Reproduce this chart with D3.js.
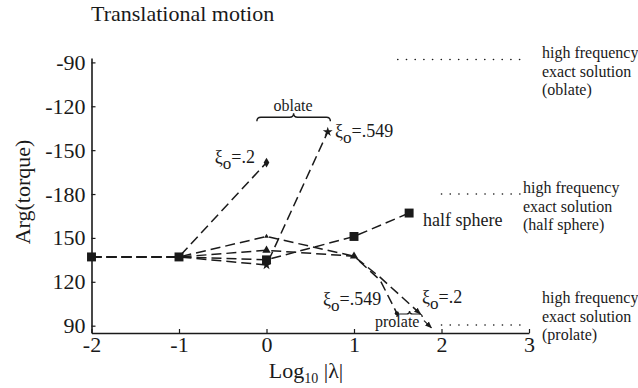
<!DOCTYPE html>
<html>
<head>
<title>Translational motion</title>
<style>
  body, html { margin: 0; padding: 0; background: #fff; }
  svg { display: block; font-family: "Liberation Serif", "DejaVu Serif", serif; }
</style>
</head>
<body>
<svg id="svg" width="638" height="388"></svg>
<script src="https://d3js.org/d3.v7.min.js"></script>
<script>
// axis ticks
const xTicks = [-2, -1, 0, 1, 2, 3]
const yTickArgs = [90, 120, 150, -180, -150, -120, -90]

// series: log10|lambda| and Arg(torque) in degrees, as read on the axis
const halfX = [-2, -1, 0, 1, 1.63]
const halfArg = [137, 137, 135, 151, 167]

const oblate02X = [-2, -1, 0]
const oblate02Arg = [137, 137, -158.5]

const oblate549X = [-2, -1, 0, 0.7]
const oblate549Arg = [137, 137, 131.5, -137.5]

const prolate02X = [-2, -1, 0, 1, 1.3, 1.76]
const prolate02Arg = [137, 137, 151, 137.5, 123, 98]

const prolate549X = [-2, -1, 0, 1, 1.3, 1.49]
const prolate549Arg = [137, 137, 141.5, 137.5, 121, 98.5]

// high frequency exact solutions
const hfOblateX = [1.5, 2.97]
const hfOblateArg = [-88, -88]
const hfHalfX = [2.0, 2.9]
const hfHalfArg = [180, 180]
const hfProlateX = [2.0, 2.97]
const hfProlateArg = [90.5, 90.5]

// phase axis wraps at 180: 90 ... 180/-180 ... -90
const unwrap = a => a < 0 ? a + 360 : a
const zip = (xs, as) => xs.map((v, i) => [v, as[i]])

const svg = d3.select('#svg')
const x = d3.scaleLinear().domain([-2, 3]).range([91.5, 529])
const y = d3.scaleLinear().domain([85, 273]).range([333, 58])
const ink = '#1a1a1a'

// axes
const yAxis = d3.axisLeft(y)
  .tickValues(yTickArgs.map(unwrap))
  .tickFormat((d, i) => yTickArgs[i])
  .tickSize(-4).tickSizeOuter(0).tickPadding(6)
const gy = svg.append('g').attr('transform', `translate(${x(-2)},0)`).call(yAxis)

const xAxis = d3.axisBottom(x)
  .tickValues(xTicks)
  .tickFormat(d3.format('d'))
  .tickSize(-4).tickSizeOuter(0).tickPadding(3)
const gx = svg.append('g').attr('transform', `translate(0,${y(85)})`).call(xAxis)

for (const g of [gx, gy]) {
  g.attr('font-family', null).attr('font-size', 22)
  g.select('.domain').attr('stroke', ink).attr('stroke-width', 1.6)
  g.selectAll('.tick line').attr('stroke', ink).attr('stroke-width', 1.2)
  g.selectAll('.tick text').attr('fill', ink)
}
gx.selectAll('.tick text').text(d => d < 0 ? '-' + Math.abs(d) : d)

// dashed data lines
const line = d3.line().x(d => x(d[0])).y(d => y(unwrap(d[1])))

svg.append('defs').append('marker')
  .attr('id', 'arrow').attr('viewBox', '0 0 10 10')
  .attr('refX', 9).attr('refY', 5)
  .attr('markerWidth', 7).attr('markerHeight', 7)
  .attr('markerUnits', 'userSpaceOnUse')
  .attr('orient', 'auto')
  .append('path').attr('d', 'M0,1L10,5L0,9z').attr('fill', ink)

const series = [
  { pts: zip(oblate02X, oblate02Arg) },
  { pts: zip(oblate549X, oblate549Arg) },
  { pts: zip(halfX, halfArg) },
  { pts: zip(prolate549X, prolate549Arg) },
  { pts: zip(prolate02X, prolate02Arg), arrow: true }
]
svg.append('g').selectAll('path')
  .data(series)
  .join('path')
  .attr('d', d => line(d.pts))
  .attr('fill', 'none')
  .attr('stroke', ink)
  .attr('stroke-width', 1.5)
  .attr('stroke-dasharray', '10,5')
  .attr('marker-end', d => d.arrow ? 'url(#arrow)' : null)

// dotted high-frequency lines
svg.append('g').selectAll('path')
  .data([zip(hfOblateX, hfOblateArg), zip(hfHalfX, hfHalfArg), zip(hfProlateX, hfProlateArg)])
  .join('path')
  .attr('d', line)
  .attr('fill', 'none')
  .attr('stroke', ink)
  .attr('stroke-width', 1.6)
  .attr('stroke-linecap', 'round')
  .attr('stroke-dasharray', '0.1,8.6')

// markers
function markers(xs, as, type, size) {
  svg.append('g').selectAll('path')
    .data(zip(xs, as))
    .join('path')
    .attr('transform', d => `translate(${x(d[0])},${y(unwrap(d[1]))})`)
    .attr('d', d3.symbol().type(type).size(size))
    .attr('fill', ink)
}
markers(halfX, halfArg, d3.symbolSquare, 80)
markers(oblate02X.slice(2), oblate02Arg.slice(2), d3.symbolDiamond, 28)
markers(oblate549X.slice(2), oblate549Arg.slice(2), d3.symbolStar, 30)
markers(prolate549X.slice(2, 4), prolate549Arg.slice(2, 4), d3.symbolTriangle, 30)
markers(prolate549X.slice(5), prolate549Arg.slice(5), d3.symbolCircle, 14)
markers(prolate02X.slice(2, 3), prolate02Arg.slice(2, 3), d3.symbolTriangle, 10)

// curly braces
function brace(x1, x2, yy, h) {
  const xm = (x1 + x2) / 2
  return `M${x1},${yy + h}Q${x1},${yy} ${x1 + h},${yy}L${xm - h},${yy}` +
    `Q${xm},${yy} ${xm},${yy - h}Q${xm},${yy} ${xm + h},${yy}` +
    `L${x2 - h},${yy}Q${x2},${yy} ${x2},${yy + h}`
}
svg.append('path')
  .attr('d', brace(x(-0.11), x(0.73), y(232.5), 4))
  .attr('fill', 'none').attr('stroke', ink).attr('stroke-width', 1.4)
svg.append('path')
  .attr('d', brace(x(1.49), x(1.78), y(98), 3))
  .attr('fill', 'none').attr('stroke', ink).attr('stroke-width', 1.2)
// arrow towards the prolate limit
svg.append('path')
  .attr('d', line([[1.8, 93.5], [1.885, 88.5]]))
  .attr('stroke', ink).attr('stroke-width', 1.2)
  .attr('marker-end', 'url(#arrow)')

// labels
function xiLabel(px, py, val, size) {
  const t = svg.append('text')
    .attr('x', px).attr('y', py)
    .attr('font-size', size).attr('fill', ink)
  t.append('tspan').text('ξ')
  t.append('tspan').attr('dy', 6).attr('font-size', size * 0.95).text('o')
  t.append('tspan').attr('dy', -6).text('=' + val)
}
xiLabel(x(-0.1) - 43, y(201.2), '.2', 18)
xiLabel(x(0.783), y(219), '.549', 18)
xiLabel(x(0.646), y(104.1), '.549', 18)
xiLabel(x(1.777), y(105.5), '.2', 18)

svg.append('text').attr('x', x(0.303)).attr('y', y(236.7))
  .attr('text-anchor', 'middle').attr('font-size', 16).attr('fill', ink).text('oblate')
svg.append('text').attr('x', x(1.494)).attr('y', y(89.1))
  .attr('text-anchor', 'middle').attr('font-size', 16).attr('fill', ink).text('prolate')
svg.append('text').attr('x', x(1.789)).attr('y', y(162.2)).attr('dy', '0.35em')
  .attr('font-size', 18).attr('fill', ink).text('half sphere')

const hfText = [
  { px: 542, py: 58, shape: '(oblate)' },
  { px: 523, py: 193, shape: '(half sphere)' },
  { px: 542, py: 303, shape: '(prolate)' }
]
hfText.forEach(d => {
  const t = svg.append('text').attr('font-size', 16).attr('fill', ink)
  ;['high frequency', 'exact solution', d.shape].forEach((s, i) => {
    t.append('tspan').attr('x', d.px).attr('y', d.py + i * 18.5).text(s)
  })
})

// titles
svg.append('text').attr('x', 91).attr('y', 21)
  .attr('font-size', 22).attr('fill', ink).text('Translational motion')

svg.append('text')
  .attr('transform', 'translate(30,192) rotate(-90)')
  .attr('text-anchor', 'middle').attr('font-size', 22).attr('fill', ink)
  .text('Arg(torque)')

const xl = svg.append('text').attr('x', 306).attr('y', 378)
  .attr('text-anchor', 'middle').attr('font-size', 22).attr('fill', ink)
xl.append('tspan').text('Log')
xl.append('tspan').attr('font-size', 14).attr('dy', 5).text('10')
xl.append('tspan').attr('dy', -5).text(' |λ|')
</script>
</body>
</html>
